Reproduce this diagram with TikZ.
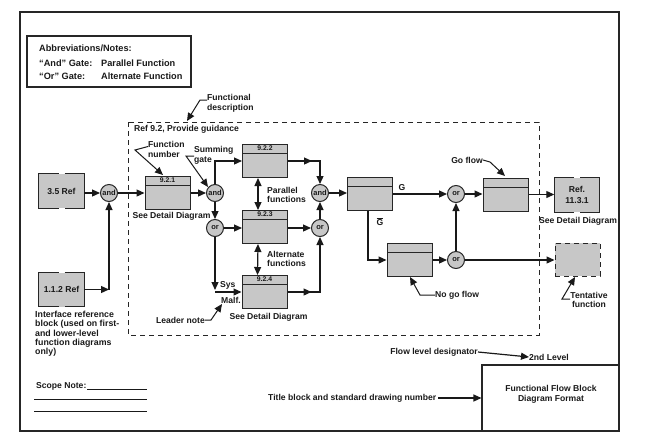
\documentclass[tikz,border=0pt]{standalone}
\usepackage{fontspec}
\setmainfont{Liberation Sans}
\usetikzlibrary{arrows.meta}
\begin{document}
\begin{tikzpicture}[x=1pt,y=-1pt,
  every node/.style={font=\fontsize{8.6}{9.6}\selectfont\bfseries, inner sep=0pt, text=black!90},
  fb/.style={draw=black!85, line width=1pt, fill=black!22, minimum width=45pt, minimum height=33pt},
  hb/.style={fb, path picture={\draw[line width=1pt, black!85] ([yshift=-9pt]path picture bounding box.north west) -- ([yshift=-9pt]path picture bounding box.north east);}},
  rb/.style={fill=black!22, minimum width=45pt, minimum height=34pt, align=center},
  hl/.style={font=\fontsize{6.8}{7}\selectfont\bfseries},
  gate/.style={circle, draw=black!85, line width=1pt, fill=black!22, minimum size=17pt, font=\fontsize{7.5}{8}\selectfont\bfseries},
  arr/.style={line width=1.2pt, black!90, -{Triangle[length=8pt,width=7pt]}},
  dbl/.style={line width=1.2pt, black!90, {Triangle[length=8pt,width=7pt]}-{Triangle[length=8pt,width=7pt]}},
  ldr/.style={line width=1pt, black!90, -{Triangle[length=8pt,width=7pt]}},
  ln/.style={line width=1pt, black!90},
  lab/.style={align=left},
  ab/.style={anchor=west, font=\fontsize{9.2}{10}\selectfont\bfseries}
]
\useasboundingbox (0,0) rectangle (664,437);
\newcommand\gapborder[1]{%
  \draw[line width=1pt, black!85] ([xshift=-3pt]#1.north) -| (#1.south west) -- ([xshift=-3pt]#1.south);
  \draw[line width=1pt, black!85] ([xshift=3pt]#1.north) -| (#1.south east) -- ([xshift=3pt]#1.south);}

% outer frame
\draw[line width=1.3pt, black!85] (20,12) rectangle (619,431);

% abbreviations box
\draw[line width=1.1pt, black!85] (27,36) rectangle (191,87);
\node[ab] (abh) at (39,48) {Abbreviations/Notes:};
\node[ab] (ab1) at (39,63) {“And” Gate:};
\node[ab] (ab2) at (101,63) {Parallel Function};
\node[ab] (ab3) at (39,76) {“Or” Gate:};
\node[ab] (ab4) at (101,76) {Alternate Function};

% functional description
\node[lab, anchor=west] (fdesc) at (207,103) {Functional\\description};
\coordinate (fdc) at (200,100);
\coordinate (fdt) at (187,121);
\draw[ldr] (fdesc.west |- fdc) -- (fdc) -- (fdt);

% dashed box
\draw[line width=1pt, black!85, dash pattern=on 5pt off 4pt] (128,122) rectangle (539,335);
\node[anchor=west] (refguid) at (134,129) {Ref 9.2, Provide guidance};

% function boxes
\node[hb] (b921) at (167.5,192.5) {};
\node[hl] at ([yshift=-4.5pt]b921.north) {9.2.1};
\node[hb] (b922) at (265,161) {};
\node[hl] at ([yshift=-4.5pt]b922.north) {9.2.2};
\node[hb] (b923) at (265,227) {};
\node[hl] at ([yshift=-4.5pt]b923.north) {9.2.3};
\node[hb] (b924) at (264.5,292) {};
\node[hl] at ([yshift=-4.5pt]b924.north) {9.2.4};
\node[hb] (bA) at (370,194) {};
\node[hb] (bB) at (505.5,194.5) {};
\node[hb] (bC) at (409.5,260) {};

% reference blocks
\node[rb] (r35) at (61.5,191) {3.5 Ref};
\gapborder{r35}
\node[rb] (r112) at (61.5,289.5) {1.1.2 Ref};
\gapborder{r112}
\node[rb] (r1131) at (577,195) {Ref.\\[1pt]11.3.1};
\gapborder{r1131}
\node[fb, draw=black!85, dash pattern=on 5pt off 4pt] (tent) at (577.5,259.5) {};

% gates
\node[gate] (g1) at (109,193) {and};
\node[gate] (g2) at (215,193) {and};
\node[gate] (g3) at (215,228) {or};
\node[gate] (g4) at (320,193) {and};
\node[gate] (g5) at (320,228) {or};
\node[gate] (g6) at (456,194) {or};
\node[gate] (g7) at (456,260) {or};

% connectors
\draw[arr] (r35.east |- g1) -- (g1.west);
\draw[arr] (r112.east) -- (g1 |- r112.east);
\draw[arr] (g1 |- r112.east) -- (g1.south);
\draw[arr] (g1.east) -- (g1.east -| b921.west);
\draw[arr] (b921.east |- g2) -- (g2.west);
\draw[arr] (g2.north) |- (b922.west);
\draw[arr] (g2.south) -- (g3.north);
\draw[arr] (g3.east) -- (g3.east -| b923.west);
\coordinate (sysa) at (215,290);
\draw[arr] (g3.south) -- (sysa);
\draw[arr] (g3 |- b924.west) -- (b924.west);
\draw[arr] (b922.east) -- ++(24,0);
\draw[arr] (b922.east) -| (g4.north);
\draw[arr] (b923.east |- g5) -- (g5.west);
\draw[arr] (b924.east) -- ++(24,0);
\draw[arr] (b924.east) -| (g5.south);
\draw[arr] (g5.north) -- (g4.south);
\draw[arr] (g4.east) -- (g4.east -| bA.west);
\draw[arr] (bA.east |- g6) -- (g6.west);
\draw[arr] (g6.east) -- (g6.east -| bB.west);
\draw[arr] (bB.east) -- (bB.east -| r1131.west);
\coordinate (ngx) at (368,0);
\draw[arr] (bA.south -| ngx) |- (bC.west);
\draw[arr] (bC.east |- g7) -- (g7.west);
\draw[arr] (g7.north) -- (g6.south);
\draw[arr] (g7.east) -- (g7.east -| tent.west);
\draw[dbl] ([xshift=-7pt]b922.south) -- ([xshift=-7pt]b923.north);
\draw[dbl] ([xshift=-7pt]b923.south) -- ([xshift=-7pt]b924.north);

% labels
\node (lG) at (402,188) {G};
\node (lGb) at (380,222) {$\overline{\mbox{G}}$};
\node[lab, anchor=west] (lpar) at (267,195) {Parallel\\functions};
\node[lab, anchor=west] (lalt) at (267,259) {Alternate\\functions};
\node (sd1) at (171.5,216) {See Detail Diagram};
\node (sd2) at (268.5,317) {See Detail Diagram};
\node (sd3) at (578,221) {See Detail Diagram};
\node[anchor=west] (lsys) at (220,285) {Sys};
\node[anchor=west] (lmalf) at (221,300) {Malf.};

% function number leader
\node[lab, anchor=west] (fnum) at (148,149.5) {Function\\number};
\coordinate (fnc) at (135,150);
\coordinate (fnt) at (163,175);
\draw[ldr] ([yshift=3pt]fnum.west) -- (fnc) -- (fnt);

% summing gate leader
\node[lab, anchor=west] (sumg) at (194,155) {Summing\\gate};
\coordinate (sgc) at (186,156);
\coordinate (sgt) at (208,187);
\draw[ldr] (sumg.west |- sgc) -- (sgc) -- (sgt);

% leader note
\node[anchor=east] (lnote) at (205,320) {Leader note};
\coordinate (lnc) at (211,320);
\coordinate (lnt) at (222,304);
\draw[ldr] (lnote.east) -- (lnc) -- (lnt);

% go flow
\node[anchor=east] (gof) at (483,160) {Go flow};
\coordinate (gfc) at (490,162);
\coordinate (gft) at (505,176);
\draw[ldr] (gof.east) -- (gfc) -- (gft);

% no go flow
\node[anchor=west] (ngf) at (435,295) {No go flow};
\coordinate (ngc) at (420,295);
\coordinate (ngt) at (410,277);
\draw[ldr] (ngf.west) -- (ngc) -- (ngt);

% tentative function
\node[align=center] (tentl) at (589,300) {Tentative\\function};
\coordinate (tfc) at (562,299);
\coordinate (tft) at (575,277);
\draw[ldr] (tentl.west |- tfc) -- (tfc) -- (tft);

% interface note
\node[lab, anchor=north west, font=\fontsize{8.8}{9.3}\selectfont\bfseries] (ifn) at (35,311) {Interface reference\\block (used on first-\\and lower-level\\function diagrams\\only)};

% scope note
\node[anchor=west] (scope) at (36,386) {Scope Note:};
\draw[ln] (87,389) -- (147,389);
\draw[ln] (34,399) -- (147,399);
\draw[ln] (34,411) -- (147,411);

% flow level
\node[anchor=east] (fld) at (478,352) {Flow level designator};
\node[anchor=west] (lvl) at (529,357) {2nd Level};
\draw[arr] (fld.east) -- (lvl.west);

% title block
\node[draw=black!85, line width=1.1pt, minimum width=137pt, minimum height=66pt] (tb) at (550.5,398) {};
\node[align=center] (tbt) at (551,394) {Functional Flow Block\\Diagram Format};
\node[anchor=west] (ttl) at (268,398) {Title block and standard drawing number};
\draw[arr] ([xshift=2pt]ttl.east) -- (tb.west);
\end{tikzpicture}
\end{document}
